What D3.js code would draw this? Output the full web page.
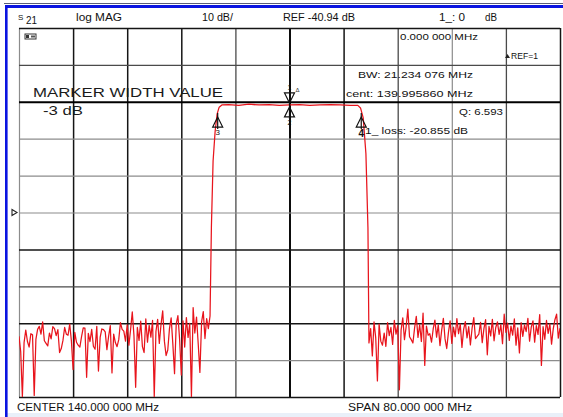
<!DOCTYPE html>
<html><head><meta charset="utf-8">
<script src="https://cdn.jsdelivr.net/npm/d3@7"></script>
<style>html,body{margin:0;padding:0;background:#fff;} svg{display:block;font-family:"Liberation Sans",Arial,Helvetica,sans-serif;}</style>
</head><body><svg id="c" width="563" height="417"></svg>
<script>
// ---- data ----
const freqDomain = [100, 180];            // MHz (center 140, span 80)
const dbDomain = [-90.94, 9.06];          // ref -40.94 dB, 10 dB/div
const freqGrid = [100,108,116,124,132,140,148,156,164,172,180];
const dbGrid = [9.06,-0.94,-10.94,-20.94,-30.94,-40.94,-50.94,-60.94,-70.94,-80.94,-90.94];
const sweepStep = 0.25;                   // MHz between sweep points
const noiseLowStart = 100;
const noiseLow = [
 -74.5,-78.6,-90.9,-76.2,-72.8,-75.9,-77.4,-73.8,-74.1,-90.5,
 -75.3,-72.6,-71.8,-73.9,-70.6,-75.7,-76.4,-77.1,-73.6,-75.2,
 -71.9,-72.4,-74.3,-72.7,-78.9,-77.8,-75.6,-72.1,-73.9,-74.2,
 -71.2,-75.8,-83.5,-73.4,-76.1,-76.9,-77.4,-74.6,-72.2,-72.3,
 -85.6,-73.7,-75.9,-72.6,-77.2,-78.0,-71.8,-83.9,-74.8,-72.5,
 -72.7,-73.3,-78.1,-74.5,-71.6,-84.4,-73.9,-76.2,-77.3,-75.4,
 -70.8,-72.6,-73.1,-75.8,-71.4,-76.9,-72.7,-67.9,-74.3,-88.3,
 -72.1,-75.6,-70.4,-77.3,-78.9,-69.8,-76.1,-71.5,-74.7,-70.2,
 -90.9,-73.2,-69.9,-76.4,-71.3,-67.6,-75.8,-79.7,-78.2,-72.4,
 -69.5,-76.6,-84.6,-71.1,-68.9,-75.3,-85.0,-70.3,-77.4,-69.4,
 -74.8,-71.0,-90.9,-66.7,-73.6,-69.3,-76.5,-84.3,-70.6,-67.8,
 -75.1,-69.7,-72.4
];
const passband = [
 [128.25,-69.0],[128.45,-45.0],[128.7,-27.0],[129.0,-19.0],[129.3,-14.2],[129.6,-12.4],
 [130.0,-11.8],[131.0,-11.7],[132.5,-11.9],[134.0,-11.6],[135.5,-11.8],[137.0,-11.7],
 [138.5,-11.9],[140.0,-11.8],[141.5,-11.7],[143.0,-11.9],[144.5,-11.8],[146.0,-11.7],
 [147.5,-11.8],[149.0,-11.9],[150.1,-11.9],[150.5,-12.6],[150.9,-15.3],[151.3,-25.0],
 [151.6,-45.0],[151.75,-76.3]
];
const noiseHighStart = 152;
const noiseHigh = [
 -72.4,-79.8,-70.6,-74.9,-86.6,-71.2,-75.8,-76.9,-73.6,-77.2,
 -70.8,-74.3,-72.1,-76.7,-70.2,-73.9,-71.6,-89.0,-72.8,-69.5,
 -75.4,-71.9,-67.1,-74.6,-75.4,-76.3,-72.2,-69.1,-74.8,-71.3,
 -75.9,-68.2,-82.4,-71.7,-74.2,-73.8,-76.1,-72.5,-70.1,-74.7,
 -71.4,-77.0,-72.9,-69.6,-75.2,-77.8,-73.5,-70.3,-76.4,-72.0,
 -74.6,-69.7,-73.8,-71.2,-77.5,-72.6,-70.5,-74.9,-71.9,-76.8,
 -72.3,-69.4,-75.1,-74.5,-73.9,-70.7,-76.2,-72.4,-70.0,-79.5,
 -71.8,-74.4,-69.9,-75.7,-72.1,-70.6,-74.0,-71.3,-76.5,-68.5,
 -73.4,-70.9,-75.6,-71.7,-74.2,-69.8,-76.9,-72.2,-79.0,-70.8,
 -74.5,-71.4,-73.2,-69.6,-75.8,-72.0,-70.3,-76.1,-71.6,-74.0,
 -68.6,-82.4,-71.9,-75.3,-70.2,-73.7,-71.1,-76.6,-72.5,-70.0,
 -68.5,-75.0,-72.3
];
const markerIds = ["1","2","3","4"];
const markerFreqs = [140, 140, 129.38, 150.61];
const markerDb = [-11.8, -11.8, -14.8, -14.8];
const markerDir = ["down","up","up","up"];
const headerTexts = ["log MAG","10 dB/","REF -40.94 dB","1_: 0","dB"];
const infoTexts = ["0.000 000 MHz","REF=1","BW:  21.234 076  MHz","cent:  139.995860 MHz","Q: 6.593","1_ loss: -20.855 dB"];
const bigTexts = ["MARKER WIDTH VALUE","-3 dB"];
const footerTexts = ["CENTER  140.000 000 MHz","SPAN   80.000 000 MHz"];

// ---- layout ----
const L = 19, R = 560, T = 28, B = 397;
const svg = d3.select("#c");
const x = d3.scaleLinear().domain(freqDomain).range([L, R]);
const y = d3.scaleLinear().domain(dbDomain).range([B, T]);

// frame
svg.append("rect").attr("x",0).attr("y",0).attr("width",563).attr("height",417).attr("fill","#fff");
svg.append("rect").attr("x",7).attr("y",413).attr("width",556).attr("height",4).attr("fill","#e9f0f9");
svg.append("line").attr("x1",4).attr("x2",563).attr("y1",3.5).attr("y2",3.5).attr("stroke","#5a5f78").attr("stroke-width",1);
svg.append("rect").attr("x",5).attr("y",5).attr("width",558).attr("height",3).attr("fill","#0a14e0");
svg.append("rect").attr("x",5).attr("y",5).attr("width",2.6).attr("height",412).attr("fill","#0a14e0");

// grid via axes
const styles = {g:["#8c8c8c",1.2], m:["#4a4a4a",1.3], k:["#151515",1.5], K:["#000",1.9]};
const vStyle = ["g","k","k","k","m","K","k","m","g","m","k"];
const hStyle = ["k","m","K","g","g","g","k","m","k","g","k"];
const gx = svg.append("g").attr("transform",`translate(0,${B})`)
  .call(d3.axisBottom(x).tickValues(freqGrid).tickSize(-(B-T)).tickFormat(""));
gx.select(".domain").remove();
gx.selectAll(".tick line").each(function(d,i){
  const s = styles[vStyle[i]];
  d3.select(this).attr("stroke",s[0]).attr("stroke-width",s[1]);
});
const gy = svg.append("g").attr("transform",`translate(${L},0)`)
  .call(d3.axisLeft(y).tickValues(dbGrid).tickSize(-(R-L)).tickFormat(""));
gy.select(".domain").remove();
gy.selectAll(".tick line").each(function(d){
  const s = styles[hStyle[dbGrid.indexOf(d)]];
  d3.select(this).attr("stroke",s[0]).attr("stroke-width",s[1]);
});

// reference level marker ▷
const yr = y(-40.94);
svg.append("path").attr("d",`M12,${yr-3}L17,${yr}L12,${yr+3}Z`).attr("fill","none").attr("stroke","#222").attr("stroke-width",1.1);

// tiny icon at top-left of grid
svg.append("rect").attr("x",25).attr("y",34).attr("width",11).attr("height",5).attr("fill","none").attr("stroke","#333").attr("stroke-width",1);
svg.append("rect").attr("x",26).attr("y",35).attr("width",3).attr("height",3).attr("fill","#333");
svg.append("rect").attr("x",31).attr("y",35.5).attr("width",4).attr("height",2).attr("fill","#555");

// texts
function txt(t, px, py, w, fs, extra){
  const e = svg.append("text").attr("x",px).attr("y",py).attr("font-size",fs).attr("fill","#111").text(t);
  if (w) e.attr("textLength",w).attr("lengthAdjust","spacingAndGlyphs");
  if (extra) extra(e);
  return e;
}
txt("S",18,20,null,8);
txt("21",26,24,11,10);
const hdrPos = [[76,46],[202,31],[283,72],[439,26],[485,12]];
headerTexts.forEach((t,i)=>txt(t,hdrPos[i][0],21,hdrPos[i][1],10));
const infoPos = [[400,40,78],[511,59,27],[358,78,115],[346,97,127],[459,115,44],[365,134,103]];
infoTexts.forEach((t,i)=>txt(t,infoPos[i][0],infoPos[i][1],infoPos[i][2],9.5));
svg.append("path").attr("d","M505,58L507.5,54L510,58Z").attr("fill","#222");
const bigPos = [[33,97,190],[43,115,40]];
bigTexts.forEach((t,i)=>txt(t,bigPos[i][0],bigPos[i][1],bigPos[i][2],13,e=>e.attr("fill","#1a1a1a")));
const footPos = [[17,411,142],[348,411,124]];
footerTexts.forEach((t,i)=>txt(t,footPos[i][0],footPos[i][1],footPos[i][2],10));

// trace
const pts = [];
noiseLow.forEach((v,i)=>pts.push([noiseLowStart + i*sweepStep, v]));
passband.forEach(p=>pts.push(p));
noiseHigh.forEach((v,i)=>pts.push([noiseHighStart + i*sweepStep, v]));
svg.append("clipPath").attr("id","clip").append("rect").attr("x",L).attr("y",T).attr("width",R-L).attr("height",B-T);
svg.append("path").datum(pts)
  .attr("clip-path","url(#clip)")
  .attr("d", d3.line().x(d=>x(d[0])).y(d=>y(Math.max(d[1], dbDomain[0]))))
  .attr("fill","none").attr("stroke","#e8141c").attr("stroke-width",1.25).attr("stroke-linejoin","round");

// markers
markerIds.forEach((id,i)=>{
  const mx = x(markerFreqs[i]);
  const my = y(markerDb[i]);
  const g = svg.append("g").attr("stroke","#111").attr("fill","none").attr("stroke-width",1.2);
  if (markerDir[i] === "down") {
    const tip = my - 2;
    g.append("path").attr("d",`M${mx},${tip}L${mx-5},${tip-10}L${mx+5},${tip-10}Z`);
    svg.append("text").attr("x",mx).attr("y",tip-13).attr("text-anchor","middle").attr("font-size",7).attr("fill","#111").text(id);
    svg.append("text").attr("x",mx+8).attr("y",tip-11).attr("text-anchor","middle").attr("font-size",6).attr("fill","#333").text("Δ");
  } else {
    const tip = (i === 1) ? my + 2 : my + 1;
    g.append("path").attr("d",`M${mx},${tip}L${mx-5},${tip+10}L${mx+5},${tip+10}Z`);
    g.append("line").attr("x1",mx).attr("x2",mx).attr("y1",tip-4).attr("y2",tip+12);
    const fs = id === "4" ? 10 : (id === "3" ? 8 : 7);
    svg.append("text").attr("x",mx).attr("y",tip+ (id==="4"?20:18)).attr("text-anchor","middle").attr("font-size",fs)
      .attr("font-weight", id==="4" ? "bold" : "normal").attr("fill","#111").text(id);
  }
});
</script></body></html>
